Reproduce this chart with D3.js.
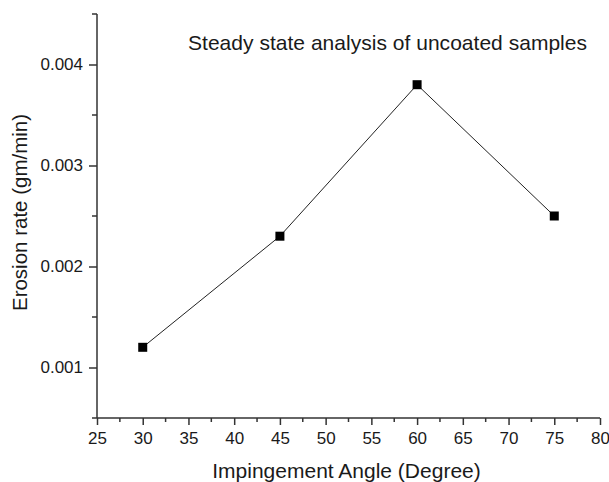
<!DOCTYPE html>
<html><head><meta charset="utf-8">
<script src="https://cdn.jsdelivr.net/npm/d3@7"></script>
<style>body{margin:0;background:#fff}svg{display:block}text{font-family:"Liberation Sans",Arial,sans-serif;fill:#1a1a1a}</style>
</head><body><svg id="c" width="609" height="482"></svg>
<script>
const angles = [30, 45, 60, 75];
const erosionRates = [0.0012, 0.0023, 0.0038, 0.0025];
const xTicks = [25, 30, 35, 40, 45, 50, 55, 60, 65, 70, 75, 80];
const yTicks = [0.001, 0.002, 0.003, 0.004];
const title = "Steady state analysis of uncoated samples";
const xLabel = "Impingement Angle (Degree)";
const yLabel = "Erosion rate (gm/min)";

const svg = d3.select("#c");
const x = d3.scaleLinear().domain([25, 80]).range([97, 600]);
const y = d3.scaleLinear().domain([0.0005, 0.0045]).range([418, 14]);
const axisColor = "#333";

const xMinor = d3.range(27.5, 80, 5);
const yMinor = [0.0005, 0.0015, 0.0025, 0.0035, 0.0045];

const gx = svg.append("g").attr("transform", "translate(0,418)")
  .call(d3.axisBottom(x).tickValues(xTicks).tickFormat(d3.format("d")).tickSize(7).tickPadding(7));
gx.selectAll(".tick text").attr("font-size", 17);
gx.selectAll("line,path").attr("stroke", axisColor).attr("stroke-width", 1.5);
gx.select(".domain").attr("d", `M${x(25)},0H${x(80)}`);
svg.append("g").selectAll("line").data(xMinor).join("line")
  .attr("x1", d => x(d)).attr("x2", d => x(d)).attr("y1", 418).attr("y2", 422)
  .attr("stroke", axisColor).attr("stroke-width", 1.5);

const gy = svg.append("g").attr("transform", "translate(97,0)")
  .call(d3.axisLeft(y).tickValues(yTicks).tickFormat(d3.format(".3f")).tickSize(8).tickPadding(6));
gy.selectAll(".tick text").attr("font-size", 17);
gy.selectAll("line,path").attr("stroke", axisColor).attr("stroke-width", 1.5);
gy.select(".domain").attr("d", `M0,${y(0.0045)}V${y(0.0005)}`);
svg.append("g").selectAll("line").data(yMinor).join("line")
  .attr("x1", 97).attr("x2", 92).attr("y1", d => y(d)).attr("y2", d => y(d))
  .attr("stroke", axisColor).attr("stroke-width", 1.5);

const pts = angles.map((a, i) => [a, erosionRates[i]]);
svg.append("path").datum(pts)
  .attr("fill", "none").attr("stroke", "#222").attr("stroke-width", 1)
  .attr("d", d3.line().x(d => x(d[0])).y(d => y(d[1])));
svg.append("g").selectAll("rect").data(pts).join("rect")
  .attr("x", d => x(d[0]) - 4.5).attr("y", d => y(d[1]) - 4.5)
  .attr("width", 9).attr("height", 9).attr("fill", "#000");

svg.append("text").attr("x", 188).attr("y", 50).attr("font-size", 21).attr("textLength", 399).attr("lengthAdjust", "spacing").text(title);
svg.append("text").attr("x", 346.5).attr("y", 478).attr("text-anchor", "middle").attr("font-size", 21).text(xLabel);
svg.append("text").attr("transform", "translate(27,212.5) rotate(-90)").attr("text-anchor", "middle").attr("font-size", 20.5).text(yLabel);
</script></body></html>
